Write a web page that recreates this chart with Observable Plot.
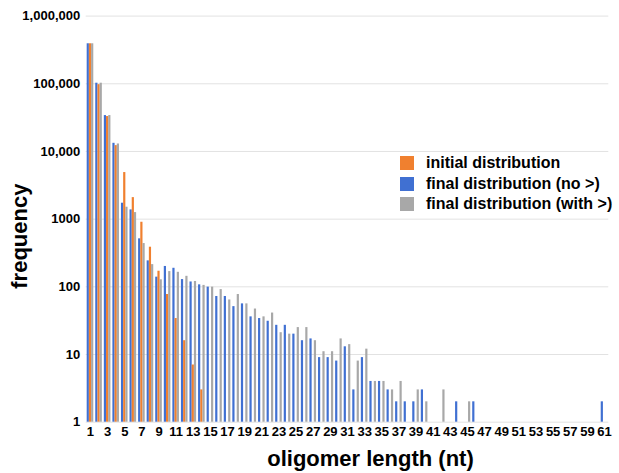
<!DOCTYPE html>
<html><head><meta charset="utf-8">
<script src="https://cdn.jsdelivr.net/npm/d3@7"></script>
<script src="https://cdn.jsdelivr.net/npm/@observablehq/plot@0.6"></script>
<style>
body{margin:0;background:#fff;font-family:"Liberation Sans",Arial,Helvetica,sans-serif;}
#wrap{position:relative;width:619px;height:473px;}
#legend{position:absolute;left:400px;top:153px;font-weight:bold;font-size:16px;color:#000;}
.row{display:flex;align-items:center;height:20.5px;white-space:nowrap;}
.sw{width:14px;height:14px;margin-right:12px;flex:none;}
</style></head><body><div id="wrap"><div id="legend"></div></div>
<script>
const lengths = [1,2,3,4,5,6,7,8,9,10,11,12,13,14,15,16,17,18,19,20,21,22,23,24,25,26,27,28,29,30,31,32,33,34,35,36,37,38,39,40,41,42,43,44,45,46,47,48,49,50,51,52,53,54,55,56,57,58,59,60,61];
const initialDist = [390000,97000,32800,12200,4880,2080,900,385,170,77,34,16,7,3,null,null,null,null,null,null,null,null,null,null,null,null,null,null,null,null,null,null,null,null,null,null,null,null,null,null,null,null,null,null,null,null,null,null,null,null,null,null,null,null,null,null,null,null,null,null,null];
const finalNoGt = [390000,102000,33900,13200,1720,1370,512,242,139,200,188,128,118,107,99,72,72,51,56,36,34,31,27,27,20,16,17,9,9,8,13,3,9,4,4,3,2,2,2,3,null,null,null,2,null,2,null,null,null,null,null,null,null,null,null,null,null,null,null,null,2];
const finalWithGt = [390000,102000,33900,12900,1500,1250,436,213,127,168,164,143,120,105,99,91,64,77,56,47,36,41,21,20,25,25,16,11,11,17,14,8,12,4,4,3,4,null,3,2,null,3,null,null,2,null,null,null,null,null,null,null,null,null,null,null,null,null,null,null,null];
const seriesNames = ["initial distribution","final distribution (no >)","final distribution (with >)"];
const seriesColors = ["#f0802f","#4070d2","#a8a8a8"];
const xTicks = [1,3,5,7,9,11,13,15,17,19,21,23,25,27,29,31,33,35,37,39,41,43,45,47,49,51,53,55,57,59,61];
const yTicks = [1,10,100,1000,10000,100000,1000000];
const yTickLabels = ["1","10","100","1000","10,000","100,000","1,000,000"];

function rows(values, name) {
  const out = [];
  values.forEach((v, i) => { if (v != null) out.push({length: lengths[i], value: v, series: name}); });
  return out;
}
const blueRows = rows(finalNoGt, seriesNames[1]);
const orangeRows = rows(initialDist, seriesNames[0]);
const grayRows = rows(finalWithGt, seriesNames[2]);

const font = '"Liberation Sans", Arial, Helvetica, sans-serif';
const chart = Plot.plot({
  width: 619,
  height: 473,
  marginLeft: 85.7,
  marginRight: 10.7,
  marginTop: 15.6,
  marginBottom: 51.3,
  style: {fontFamily: font, color: "#000", background: "#fff"},
  x: {type: "band", domain: lengths, padding: 0, round: false},
  y: {type: "log", domain: [1, 1000000]},
  marks: [
    Plot.ruleY(yTicks, {stroke: "#e2e2e2", strokeWidth: 1}),
    Plot.barY(blueRows, {x: "length", y1: 1, y2: "value", fill: seriesColors[1], insetLeft: 0.985, insetRight: 5.385}),
    Plot.barY(orangeRows, {x: "length", y1: 1, y2: "value", fill: seriesColors[0], insetLeft: 3.185, insetRight: 3.185}),
    Plot.barY(grayRows, {x: "length", y1: 1, y2: "value", fill: seriesColors[2], insetLeft: 5.385, insetRight: 0.985}),
    Plot.axisX({ticks: xTicks, tickSize: 0, tickPadding: 5, fontSize: 13, fontWeight: "bold", label: null}),
    Plot.axisY({ticks: yTicks, tickFormat: d => yTickLabels[yTicks.indexOf(d)], tickSize: 0, tickPadding: 6, fontSize: 13, fontWeight: "bold", label: null}),
    Plot.text(["frequency"], {frameAnchor: "left", textAnchor: "middle", dx: -66, dy: 17, rotate: -90, fontSize: 22, fontWeight: "bold", fill: "#000"}),
    Plot.text(["oligomer length (nt)"], {frameAnchor: "bottom", textAnchor: "middle", dx: 23, dy: 44, fontSize: 22, fontWeight: "bold", fill: "#000"})
  ]
});
const wrap = document.getElementById("wrap");
wrap.insertBefore(chart, wrap.firstChild);
const legend = document.getElementById("legend");
seriesNames.forEach((n, i) => {
  const r = document.createElement("div");
  r.className = "row";
  const s = document.createElement("div");
  s.className = "sw";
  s.style.background = seriesColors[i];
  const t = document.createElement("span");
  t.textContent = n;
  r.appendChild(s); r.appendChild(t);
  legend.appendChild(r);
});
</script>
</body></html>
